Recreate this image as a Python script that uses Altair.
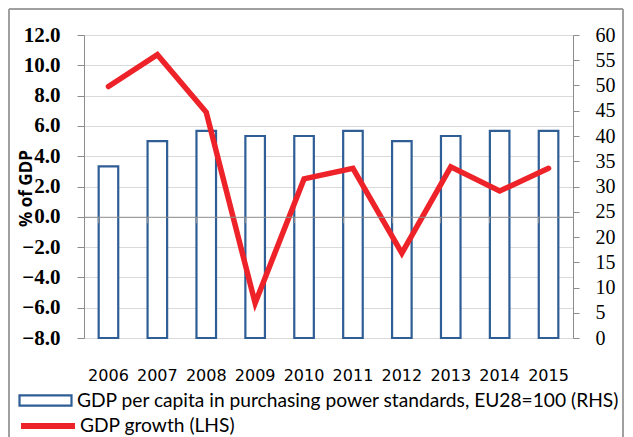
import altair as alt
import pandas as pd

years = ["2006", "2007", "2008", "2009", "2010", "2011", "2012", "2013", "2014", "2015"]
gdp_pc_pps = [34, 39, 41, 40, 40, 41, 39, 40, 41, 41]
gdp_growth = [8.6, 10.7, 6.9, -5.7, 2.5, 3.2, -2.4, 3.3, 1.7, 3.2]
left_ticks = [-8, -6, -4, -2, 0, 2, 4, 6, 8, 10, 12]
right_ticks = [0, 5, 10, 15, 20, 25, 30, 35, 40, 45, 50, 55, 60]
bar_label = "GDP per capita in purchasing power standards, EU28=100 (RHS)"
line_label = "GDP growth (LHS)"

df = pd.DataFrame({
    "year": years,
    "pps": gdp_pc_pps,
    "growth": gdp_growth,
    "bar_series": [bar_label] * len(years),
    "line_series": [line_label] * len(years),
})

W, H = 489, 303
BLUE = "#2E5E95"
RED = "#EE2229"
AXIS_GRAY = "#8C8C8C"
GRID = "#D9D9D9"
SERIF = "Liberation Serif"
SANS = "DejaVu Sans"
LEG = "Lato"

x_scale = alt.Scale(paddingInner=0.6, paddingOuter=0.3)

base = alt.Chart(df)

frame_data = alt.Chart(pd.DataFrame({"f": [0]}))
frame_left = frame_data.mark_rule(stroke="#A0A0A0", strokeWidth=2, clip=False).encode(
    x=alt.value(-75), y=alt.value(-26), y2=alt.value(600))
frame_top = frame_data.mark_rule(stroke="#A0A0A0", strokeWidth=2, clip=False).encode(
    x=alt.value(-75), x2=alt.value(539), y=alt.value(-26))
frame_right = frame_data.mark_rule(stroke="#A0A0A0", strokeWidth=2, clip=False).encode(
    x=alt.value(539), y=alt.value(-26), y2=alt.value(600))

bars = base.mark_bar(fill="white", strokeWidth=2.2).encode(
    x=alt.X("year:O", scale=x_scale, axis=alt.Axis(
        orient="bottom", title=None, labelAngle=0, ticks=False, tickSize=0,
        domain=False, grid=False, labelPadding=29, labelFont=SANS,
        labelFontSize=16, labelColor="black")),
    y=alt.Y("pps:Q", scale=alt.Scale(domain=[0, 60], nice=False), axis=alt.Axis(
        orient="right", values=right_ticks, grid=False, title=None,
        tickSize=6, tickColor=AXIS_GRAY, domainColor=AXIS_GRAY,
        labelPadding=16, labelFont=SERIF, labelFontSize=20, labelColor="black")),
    stroke=alt.Stroke("bar_series:N", scale=alt.Scale(range=[BLUE]), legend=alt.Legend(
        orient="none", legendX=-66, legendY=338, title=None,
        symbolType="M-1,-0.2H1V0.2H-1Z", symbolSize=2704, symbolStrokeWidth=2.2,
        symbolFillColor="white", labelFont=LEG, labelFontSize=19.2, labelLimit=0,
        labelOffset=4, labelColor="black", padding=0)),
)

line = base.mark_line(strokeWidth=5.5, strokeJoin="miter", strokeCap="round").encode(
    x=alt.X("year:O", scale=x_scale, axis=alt.Axis(
        orient="bottom", offset=-121.2, labels=False, ticks=True, tickSize=6,
        tickColor=AXIS_GRAY, domain=True, domainColor=AXIS_GRAY, bandPosition=0,
        title=None, grid=False, zindex=1)),
    y=alt.Y("growth:Q", scale=alt.Scale(domain=[-8, 12], nice=False), axis=alt.Axis(
        orient="left", values=left_ticks, format=".1f", grid=True, gridColor=GRID,
        tickSize=7, tickColor=AXIS_GRAY, domainColor=AXIS_GRAY,
        labelPadding=17, labelFont=SERIF, labelFontSize=21, labelFontWeight="bold",
        labelColor="black", title="% of GDP", titleFont="Open Sans",
        titleFontSize=17, titleFontWeight="bold", titleColor="black",
        titleX=-58, titleY=153, titleAngle=270, titleAlign="center",
        titleBaseline="middle")),
    color=alt.Color("line_series:N", scale=alt.Scale(range=[RED]), legend=alt.Legend(
        orient="none", legendX=-66, legendY=361, title=None,
        symbolType="M-1,0H1", symbolSize=2916, symbolStrokeWidth=6,
        labelFont=LEG, labelFontSize=19.2, labelLimit=0, labelOffset=2,
        labelColor="black", padding=0)),
)

chart = alt.layer(frame_left, frame_top, frame_right, bars, line).resolve_scale(
    y="independent"
).resolve_axis(
    x="independent"
).properties(
    width=W, height=H,
    autosize=alt.AutoSizeParams(type="none"),
    padding={"left": 76, "top": 27, "right": 52, "bottom": 99},
).configure_view(stroke=None).configure(background="white")

chart.save("out.html", embed_options={"renderer": "svg", "actions": False})
